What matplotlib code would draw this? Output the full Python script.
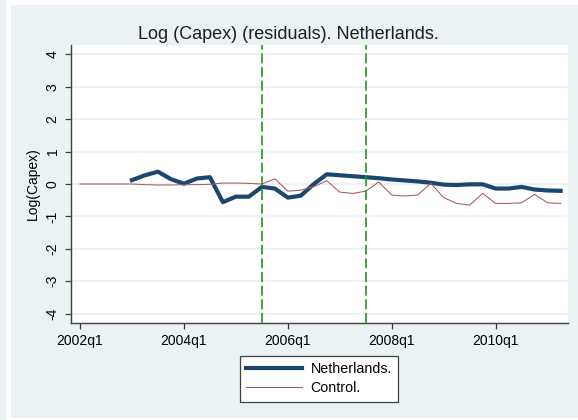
import numpy as np
import matplotlib
matplotlib.use("Agg")
import matplotlib.pyplot as plt
from matplotlib.patches import Rectangle

plt.rcParams['font.family'] = ['Liberation Sans', 'DejaVu Sans']
plt.rcParams['axes.unicode_minus'] = False

# data: quarterly residuals of log(capex), quarter index 0 = 2002q1
tick_pos = [0, 8, 16, 24, 32]
tick_labels = ['2002q1', '2004q1', '2006q1', '2008q1', '2010q1']

control = [0.00, 0.00, 0.00, 0.00, 0.00, -0.02, -0.03, -0.03, -0.02, -0.02,
           -0.01, 0.03, 0.03, 0.02, 0.00, 0.16, -0.22, -0.19, -0.08, 0.10,
           -0.25, -0.29, -0.22, 0.06, -0.34, -0.37, -0.34, 0.02, -0.42, -0.60,
           -0.65, -0.29, -0.60, -0.60, -0.58, -0.32, -0.58, -0.60]

nl_start = 4  # 2003q1
netherlands = [0.12, 0.27, 0.38, 0.15, 0.01, 0.17, 0.21, -0.56, -0.39, -0.39,
               -0.09, -0.14, -0.42, -0.36, 0.00, 0.30, 0.27, 0.24, 0.21, 0.18,
               0.14, 0.11, 0.08, 0.04, -0.02, -0.03, -0.01, -0.01, -0.14, -0.14,
               -0.09, -0.17, -0.20, -0.21]

events = [14, 22]  # 2005q3, 2007q3

bg = '#EAF2F3'
W, H = 578, 420
fig = plt.figure(figsize=(W / 100, H / 100), dpi=100, facecolor='white')

# stata style graph region
fig.patches.append(Rectangle((0, 0), 6 / W, 1, transform=fig.transFigure,
                             facecolor=bg, edgecolor='none', zorder=-10))
fig.patches.append(Rectangle((11 / W, 2 / H), 1 - 11 / W, 413 / H,
                             transform=fig.transFigure, facecolor=bg,
                             edgecolor='none', zorder=-10))

ax = fig.add_axes([70.7 / W, 1 - 322.7 / H, (568.3 - 70.7) / W, (322.7 - 45) / H])
ax.set_facecolor('white')

x_ctrl = np.arange(len(control))
x_nl = np.arange(nl_start, nl_start + len(netherlands))

ax.plot(x_nl, netherlands, color='#1A476F', lw=3.0, solid_joinstyle='round',
        label='Netherlands.', zorder=3)
ax.plot(x_ctrl, control, color='#A8585C', lw=0.75, label='Control.', zorder=4)

for e in events:
    ax.axvline(e, color='#1A9A1A', lw=1.2, dashes=(6, 2.2), zorder=5)

ax.set_xlim(-0.716, 37.59)
ax.set_ylim(-4.28, 4.29)
ax.set_yticks(range(-4, 5))
ax.set_xticks(tick_pos)
ax.set_xticklabels(tick_labels)
ax.grid(axis='y', color=bg, lw=1.4, zorder=0)
ax.set_axisbelow(True)

for s in ['top', 'right']:
    ax.spines[s].set_visible(False)
for s in ['left', 'bottom']:
    ax.spines[s].set_color('#404040')
    ax.spines[s].set_linewidth(1.0)

ax.tick_params(axis='both', colors='#404040', labelcolor='black', length=4,
               width=0.9, labelsize=10)
ax.tick_params(axis='x', pad=4)
ax.tick_params(axis='y', pad=4)
for lab in ax.get_yticklabels():
    lab.set_rotation(90)
    lab.set_va('center')

ax.set_ylabel('Log(Capex)', fontsize=10, labelpad=4)

fig.text(288 / W, 1 - 39 / H, 'Log (Capex) (residuals). Netherlands.',
         ha='center', va='baseline', fontsize=13, color='#1E1E1E')

leg = fig.legend(loc='center', bbox_to_anchor=(319 / W, 1 - 378.6 / H),
                 fontsize=10.3, handlelength=3.9, handletextpad=0.6,
                 labelspacing=0.35, borderpad=0.45, fancybox=False,
                 framealpha=1, edgecolor='#404040', facecolor='white')
leg.get_frame().set_linewidth(0.9)

fig.savefig('out.png', dpi=100, facecolor='white')
